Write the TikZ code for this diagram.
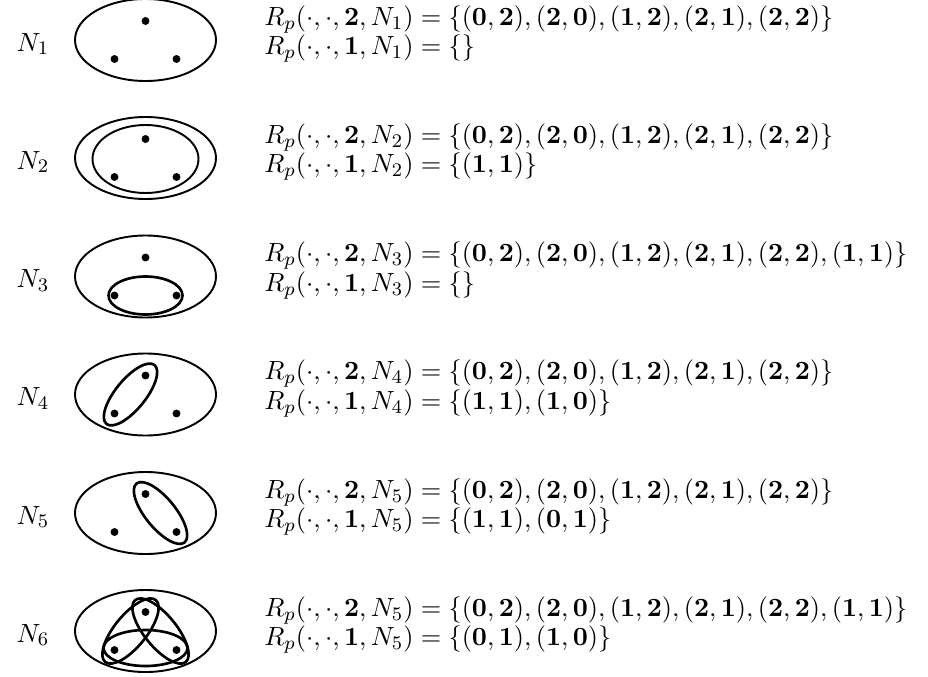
\documentclass[tikz,border=0pt]{standalone}
\usepackage{amsmath}
\usepackage{tikz}
\usetikzlibrary{positioning}
\tikzset{
  dot/.style={circle, fill=black, inner sep=0pt, minimum size=3.3pt},
  outerset/.style={line width=0.8pt},
  pairset/.style={line width=1.1pt},
  rowlabel/.style={inner sep=0pt, font=\fontsize{11}{12}\selectfont},
  relbox/.style={anchor=west, align=left, inner sep=0pt,
                 font=\fontsize{11.1}{12.2}\selectfont},
}
\newcommand{\bpair}[2]{(\mathbf{#1},\mathbf{#2})}
\newcommand{\Rp}[2]{R_p(\cdot,\cdot,\mathbf{#1},N_{#2})}

\begin{document}
\begin{tikzpicture}[x=0.4167pt, y=0.4167pt]
  \useasboundingbox (0,0) rectangle (928,676);

  % label, outer set and the three points of every row
  \foreach \k/\yc in {1/636,2/518,3/399.5,4/281.5,5/163,6/45} {
    \node[rowlabel] (lab\k) at (33,\yc-4) {$N_{\k}$};
    \draw[outerset] (145.5,\yc) ellipse [x radius=70.5, y radius=41];
    \node[dot] (top\k) at (145.5,\yc+19) {};
    \node[dot] (left\k) at (114.5,\yc-19) {};
    \node[dot] (right\k) at (176.5,\yc-19) {};
  }

  % inner sets
  \draw[outerset] (145.5,517) ellipse [x radius=53, y radius=34];
  \draw[pairset] (145.5,380.5) ellipse [x radius=37, y radius=19];
  \draw[pairset, shift={(130.5,281.5)}, rotate=50.8] (0,0) ellipse [x radius=38, y radius=15];
  \draw[pairset, shift={(160.5,163)}, rotate=-50.8] (0,0) ellipse [x radius=38, y radius=15];
  \draw[pairset, shift={(130.5,45)}, rotate=50.8] (0,0) ellipse [x radius=40, y radius=16];
  \draw[pairset, shift={(160.5,45)}, rotate=-50.8] (0,0) ellipse [x radius=40, y radius=16];
  \draw[pairset] (145.5,28) ellipse [x radius=42, y radius=18];

  % relations
  \node[relbox] (rel1) at (264,642)
    {$\Rp{2}{1} = \{\bpair02,\bpair20,\bpair12,\bpair21,\bpair22\}$\\
     $\Rp{1}{1} = \{\}$};
  \node[relbox] (rel2) at (264,524)
    {$\Rp{2}{2} = \{\bpair02,\bpair20,\bpair12,\bpair21,\bpair22\}$\\
     $\Rp{1}{2} = \{\bpair11\}$};
  \node[relbox] (rel3) at (264,405.5)
    {$\Rp{2}{3} = \{\bpair02,\bpair20,\bpair12,\bpair21,\bpair22,\bpair11\}$\\
     $\Rp{1}{3} = \{\}$};
  \node[relbox] (rel4) at (264,287.5)
    {$\Rp{2}{4} = \{\bpair02,\bpair20,\bpair12,\bpair21,\bpair22\}$\\
     $\Rp{1}{4} = \{\bpair11,\bpair10\}$};
  \node[relbox] (rel5) at (264,169)
    {$\Rp{2}{5} = \{\bpair02,\bpair20,\bpair12,\bpair21,\bpair22\}$\\
     $\Rp{1}{5} = \{\bpair11,\bpair01\}$};
  \node[relbox] (rel6) at (264,51)
    {$\Rp{2}{5} = \{\bpair02,\bpair20,\bpair12,\bpair21,\bpair22,\bpair11\}$\\
     $\Rp{1}{5} = \{\bpair01,\bpair10\}$};
\end{tikzpicture}
\end{document}
